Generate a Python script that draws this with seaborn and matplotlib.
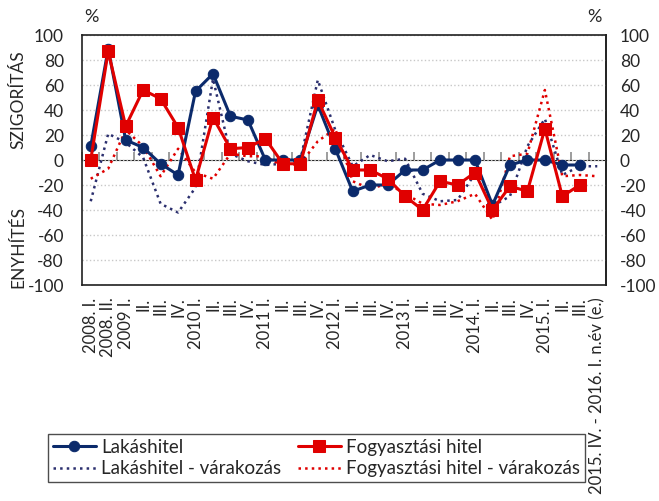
import numpy as np
import matplotlib
matplotlib.use("Agg")
import matplotlib.pyplot as plt
import seaborn as sns

# adatok
categories = ["2008. I.", "2008. II.", "2009 I.", "II.", "III.", "IV.",
              "2010 I.", "II.", "III.", "IV.",
              "2011 I.", "II.", "III.", "IV.",
              "2012 I.", "II.", "III.", "IV.",
              "2013 I.", "II.", "III.", "IV.",
              "2014. I.", "II.", "III.", "IV.",
              "2015. I.", "II.", "III.",
              "2015. IV. - 2016. I. n.év (e.)"]

lakashitel = [11, 89, 16, 10, -3, -12, 55, 69, 35, 32,
              0, 0, 0, 44, 9, -25, -20, -20, -8, -8,
              0, 0, 0, -36, -4, 0, 0, -4, -4, np.nan]
fogyasztasi = [0, 87, 27, 56, 49, 26, -16, 34, 9, 10,
               17, -3, -3, 48, 18, -8, -8, -15, -29, -40,
               -17, -20, -10, -40, -21, -25, 25, -29, -20, np.nan]
lakas_var = [-33, 21, 14, 2, -35, -42, -22, 65, 5, -1,
             -4, -3, 0, 64, 24, -5, 4, -1, 1, -27,
             -33, -32, -11, -37, -29, 11, 33, -12, -5, -5]
fogy_var = [-15, -7, 24, 11, -13, 9, -10, -15, 5, 3,
            3, -5, -3, 15, 25, -17, -23, -19, -27, -35,
            -36, -33, -27, -48, 3, 5, 56, -13, -12, -13]

navy = "#0B2A6B"
red = "#E00000"

sns.set_style("white")
plt.rcParams["font.family"] = ["Lato", "DejaVu Sans"]
plt.rcParams["axes.unicode_minus"] = False

fig = plt.figure(figsize=(6.59, 5.01), dpi=100)
ax = fig.add_axes([82 / 659, 1 - 285 / 501, (606 - 82) / 659, (285 - 35) / 501])

xs = np.arange(len(categories))

sns.lineplot(x=xs, y=lakas_var, ax=ax, color="#2B2F6E", linestyle=":", linewidth=1.8,
             label="Lakáshitel - várakozás")
sns.lineplot(x=xs, y=fogy_var, ax=ax, color=red, linestyle=":", linewidth=1.8,
             label="Fogyasztási hitel - várakozás")
sns.lineplot(x=xs, y=lakashitel, ax=ax, color=navy, linewidth=2.2, marker="o",
             markersize=7.5, markeredgecolor=navy, label="Lakáshitel")
sns.lineplot(x=xs, y=fogyasztasi, ax=ax, color=red, linewidth=2.2, marker="s",
             markersize=9, markeredgecolor=red, label="Fogyasztási hitel")

ax.set_xlim(-0.5, len(categories) - 0.5)
ax.set_ylim(-100, 100)
yt = np.arange(-100, 101, 20)
ax.set_yticks(yt)
ax.set_yticklabels([str(v) for v in yt], fontsize=12.5)
ax.tick_params(axis="y", length=0, pad=13)
ax.set_xticks(xs)
ax.set_xticklabels(categories, rotation=90, fontsize=12, va="top", ha="center")
ax.tick_params(axis="x", length=0, pad=9)
ax.grid(axis="y", color="#C8C8C8", linestyle=":", linewidth=1)
ax.set_xlabel("")
ax.set_ylabel("")
for s in ax.spines.values():
    s.set_color("#202020")
    s.set_linewidth(1.2)

# nulla vonal, osztásokkal
sec = ax.secondary_xaxis(0.5)
sec.set_xticks(np.arange(len(categories) + 1) - 0.5)
sec.set_xticklabels([])
sec.tick_params(axis="x", direction="out", length=6, color="#8C8C8C", width=1.2)
sec.spines["bottom"].set_color("#8C8C8C")
sec.spines["bottom"].set_linewidth(1.5)

# jobb tengely
right = ax.secondary_yaxis("right")
right.set_yticks(yt)
right.set_yticklabels([str(v) for v in yt], fontsize=12.5)
right.tick_params(axis="y", length=0, pad=10)
right.spines["right"].set_color("#202020")
right.spines["right"].set_linewidth(1.2)

fig.text(91 / 659, 1 - 17 / 501, "%", fontsize=13, ha="center", va="center")
fig.text(594 / 659, 1 - 17 / 501, "%", fontsize=13, ha="center", va="center")
fig.text(18 / 659, 1 - 100 / 501, "SZIGORÍTÁS", fontsize=12.5, rotation=90,
         ha="center", va="center")
fig.text(18 / 659, 1 - 247 / 501, "ENYHÍTÉS", fontsize=12.5, rotation=90,
         ha="center", va="center")

h, l = ax.get_legend_handles_labels()
order = [2, 0, 3, 1]
ax.legend_.remove()
leg = fig.legend([h[i] for i in order], [l[i] for i in order], ncol=2,
                 loc="lower left", mode="expand",
                 bbox_to_anchor=(48 / 659, 1 - 482 / 501, (585 - 48) / 659, 50 / 501),
                 fontsize=13.5, frameon=True, fancybox=False, edgecolor="#202020",
                 handlelength=2.3, borderaxespad=0, borderpad=0.25, labelspacing=0.25,
                 handletextpad=0.3)
leg.get_frame().set_linewidth(1.0)

fig.savefig("out.png", dpi=100)
